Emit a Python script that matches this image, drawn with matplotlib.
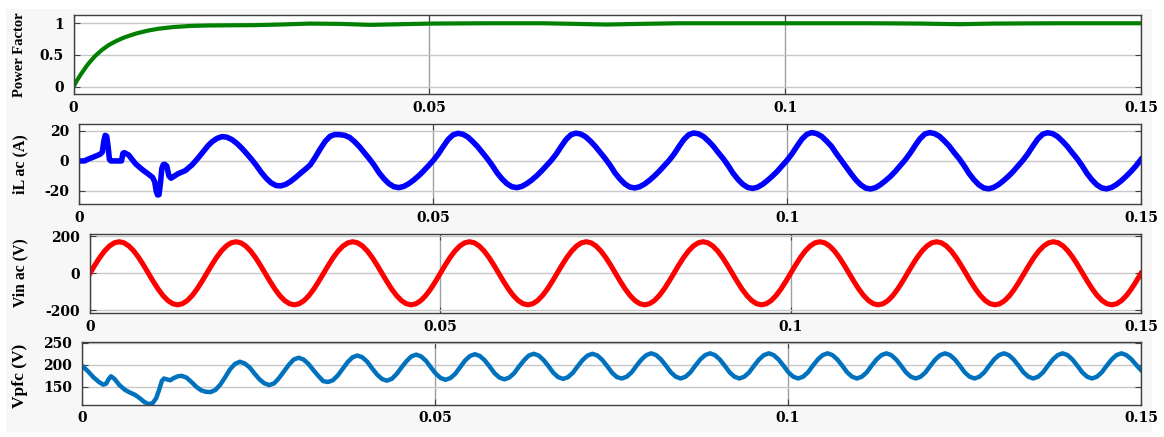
import matplotlib.pyplot as plt
import numpy as np
from matplotlib.patches import Rectangle

W, H = 1164, 437

# ---- power factor (explicit samples)
t_pf = [0, 0.0005, 0.001, 0.0015, 0.002, 0.003, 0.004, 0.005, 0.006, 0.007,
        0.008, 0.009, 0.0105, 0.012, 0.014, 0.0165, 0.019, 0.022, 0.0253, 0.029,
        0.0332, 0.0375, 0.0417, 0.046, 0.0501, 0.058, 0.066, 0.0705, 0.0749, 0.0795,
        0.085, 0.095, 0.105, 0.112, 0.119, 0.1245, 0.1293, 0.138, 0.15]
pf = [0, 0.1, 0.19, 0.27, 0.35, 0.48, 0.58, 0.66, 0.72, 0.77,
      0.81, 0.845, 0.885, 0.915, 0.94, 0.958, 0.965, 0.968, 0.97, 0.98,
      0.995, 0.99, 0.975, 0.985, 0.995, 1.0, 1.0, 0.99, 0.98, 0.99,
      1.0, 1.0, 1.0, 1.0, 0.995, 0.985, 0.995, 1.0, 1.0]

# ---- inductor current: start-up transient, then steady part on a fixed sample grid
t_il_start = [0, 0.0008, 0.0012, 0.0020, 0.0030, 0.0033, 0.0035, 0.0037, 0.0039, 0.0041,
              0.0043, 0.0045, 0.0060, 0.0062, 0.0064, 0.0070, 0.0080, 0.0090, 0.0100, 0.0104,
              0.0107, 0.0109, 0.0111, 0.0113, 0.0115, 0.0117, 0.0119, 0.0121, 0.0124, 0.0127,
              0.0130, 0.0135, 0.0140, 0.0150, 0.0160, 0.0168, 0.0176, 0.0182]
il_start = [0, 0, 1.0, 2.5, 4.5, 6, 13, 17, 16.5, 10,
            1, 0, 0, 5, 5.5, 4, -2, -6, -9.5, -11,
            -14, -20, -22.7, -22.5, -15, -5, -2.5, -2.2, -3.5, -10,
            -11.5, -10, -8.5, -6.5, -2.5, 1.8, 6.5, 10]
il_steady = [
    12.8, 15.0,
    16.2, 15.8, 14.3, 11.8, 8.6, 5.0, 1.2, -3.0, -7.6, -11.5, -14.6, -16.4,
    -16.6, -15.6, -13.6, -11.0, -8.2, -5.5, -2.5, 2.5, 8.0, 13.0, 16.4, 17.6,
    17.5, 17.0, 15.6, 12.8, 9.4, 5.4, 1.4, -3.0, -8.0, -12.0, -15.2, -17.2,
    -17.8, -17.0, -15.2, -12.8, -10.0, -6.8, -3.2, 0.3, 4.5, 9.5, 14.2, 17.3,
    18.4, 17.8, 16.0, 13.0, 9.6, 5.5, 1.5, -3.0, -8.0, -12.0, -15.2, -17.2,
    -17.8, -17.0, -15.2, -12.8, -10.0, -6.8, -3.2, 0.3, 4.5, 9.5, 14.2, 17.4,
    18.5, 17.9, 16.1, 13.1, 9.6, 5.5, 1.5, -3.0, -8.1, -12.1, -15.4, -17.4,
    -18.0, -17.2, -15.4, -12.9, -10.0, -6.8, -3.2, 0.4, 4.6, 9.6, 14.3, 17.5,
    18.6, 18.0, 16.2, 13.2, 9.7, 5.5, 1.5, -3.1, -8.2, -12.3, -15.6, -17.7,
    -18.3, -17.5, -15.6, -13.0, -10.1, -6.9, -3.2, 0.5, 4.8, 9.8, 14.5, 17.7,
    18.9, 18.2, 16.4, 13.3, 9.8, 5.0, 0.5, -4.0, -8.5, -12.7, -16.0, -18.1,
    -18.7, -17.8, -15.8, -13.2, -10.4, -7.0, -3.2, 0.6, 5.0, 10.0, 14.7, 17.9,
    18.9, 18.2, 16.4, 13.3, 9.8, 5.5, 1.5, -3.1, -8.3, -12.5, -15.9, -18.0,
    -18.6, -17.7, -15.8, -13.2, -10.3, -7.0, -3.3, 0.5, 4.9, 9.9, 14.6, 17.8,
    18.8, 18.2, 16.3, 13.2, 9.7, 5.5, 1.5, -3.1, -8.3, -12.5, -15.9, -18.0,
    -18.6, -17.7, -15.8, -13.2, -10.2, -6.9, -3.2, 1.0,
]

# ---- input voltage on a 1/1440 s sample grid
vin = [
    0, 44, 85, 120, 147, 164, 170, 164, 147, 120, 85, 44, 0, -44, -85, -120, -147, -164, -170, -164, -147, -120, -85, -44,
    0, 44, 85, 120, 147, 164, 170, 164, 147, 120, 85, 44, 0, -44, -85, -120, -147, -164, -170, -164, -147, -120, -85, -44,
    0, 44, 85, 120, 147, 164, 170, 164, 147, 120, 85, 44, 0, -44, -85, -120, -147, -164, -170, -164, -147, -120, -85, -44,
    0, 44, 85, 120, 147, 164, 170, 164, 147, 120, 85, 44, 0, -44, -85, -120, -147, -164, -170, -164, -147, -120, -85, -44,
    0, 44, 85, 120, 147, 164, 170, 164, 147, 120, 85, 44, 0, -44, -85, -120, -147, -164, -170, -164, -147, -120, -85, -44,
    0, 44, 85, 120, 147, 164, 170, 164, 147, 120, 85, 44, 0, -44, -85, -120, -147, -164, -170, -164, -147, -120, -85, -44,
    0, 44, 85, 120, 147, 164, 170, 164, 147, 120, 85, 44, 0, -44, -85, -120, -147, -164, -170, -164, -147, -120, -85, -44,
    0, 44, 85, 120, 147, 164, 170, 164, 147, 120, 85, 44, 0, -44, -85, -120, -147, -164, -170, -164, -147, -120, -85, -44,
    0, 44, 85, 120, 147, 164, 170, 164, 147, 120, 85, 44, 0, -44, -85, -120, -147, -164, -170, -164, -147, -120, -85, -44,
    0,
]

# ---- PFC output voltage: start-up, then 120 Hz ripple on a fixed grid
t_vpfc_start = [0, 0.0008, 0.0016, 0.0024, 0.0030, 0.0034, 0.0038, 0.0041, 0.0046, 0.0053,
                0.0061, 0.0068, 0.0075, 0.0082, 0.0088, 0.0094, 0.0100, 0.0105, 0.0109, 0.0113,
                0.0116, 0.0120, 0.0125, 0.0130, 0.0136, 0.0141, 0.0148, 0.0155, 0.0162, 0.0169,
                0.0175]
vpfc_start = [198, 186, 172, 161, 155, 157, 168, 174, 168, 154,
              143, 137, 132, 124, 116, 111, 113, 124, 142, 163,
              169, 167, 165, 170, 174, 175, 171, 161, 150, 142,
              139]
vpfc_steady = [
    138, 143, 155, 172, 190, 202, 207, 203, 194, 180, 167, 158,
    154, 158, 170, 185, 200, 212, 216, 212, 202, 188, 175, 163,
    161, 165, 176, 191, 206, 217, 221, 217, 207, 192, 178, 168,
    164, 168, 179, 194, 208, 219, 223, 219, 209, 194, 180, 170,
    166, 170, 180, 195, 210, 220, 224, 220, 210, 196, 181, 171,
    167, 171, 181, 196, 210, 221, 225, 221, 211, 197, 182, 172,
    168, 172, 182, 197, 211, 221, 225, 221, 211, 197, 182, 172,
    169, 173, 183, 198, 212, 222, 226, 222, 212, 198, 183, 173,
    169, 173, 183, 198, 212, 222, 226, 222, 212, 198, 183, 173,
    169, 173, 183, 198, 212, 222, 226, 222, 212, 198, 183, 173,
    169, 173, 183, 198, 212, 222, 226, 222, 212, 198, 183, 173,
    169, 173, 183, 198, 212, 222, 226, 222, 212, 198, 183, 173,
    169, 173, 183, 198, 212, 222, 226, 222, 212, 198, 183, 173,
    169, 173, 183, 198, 212, 222, 226, 222, 212, 198, 183, 173,
    169, 173, 183, 198, 212, 222, 226, 222, 212, 198, 183, 173,
    169, 173, 183, 198, 212, 222, 226, 222, 213, 200, 188,
]

x_ticks = [0, 0.05, 0.1, 0.15]
x_ticklabels = ['0', '0.05', '0.1', '0.15']

t_il = np.concatenate([t_il_start, np.linspace(0.0188, 0.15, len(il_steady))])
il = np.concatenate([il_start, il_steady])
t_vin = np.linspace(0, 0.15, len(vin))
t_vpfc = np.concatenate([t_vpfc_start, np.linspace(0.0182, 0.15, len(vpfc_steady))])
vpfc = np.concatenate([vpfc_start, vpfc_steady])


def px_rect(left, right, top, bottom):
    return [left / W, 1 - bottom / H, (right - left) / W, (bottom - top) / H]


fig = plt.figure(figsize=(W / 100, H / 100), dpi=100)
fig.patch.set_facecolor('white')
fig.patches.append(Rectangle((6 / W, 5 / H), (1152 - 6) / W, (430 - 7) / H,
                             transform=fig.transFigure, facecolor='#f7f7f7',
                             edgecolor='none', zorder=-5))

panels = [
    dict(rect=px_rect(73.5, 1141, 14.7, 94.3), t=t_pf, y=pf, color='#008000', lw=3.0,
         ylim=(-0.12, 1.135), yticks=[0, 0.5, 1], ylabels=['0', '0.5', '1'],
         label='Power Factor', lsize=10.5, lcenter=54.5),
    dict(rect=px_rect(79, 1141, 124.3, 204), t=t_il, y=il, color='#0000ff', lw=4.0,
         ylim=(-28.7, 24.4), yticks=[-20, 0, 20], ylabels=['-20', '0', '20'],
         label='iL ac (A)', lsize=11.5, lcenter=164),
    dict(rect=px_rect(90, 1141, 234.3, 313), t=t_vin, y=vin, color='#ff0000', lw=3.7,
         ylim=(-214, 210), yticks=[-200, 0, 200], ylabels=['-200', '0', '200'],
         label='Vin ac (V)', lsize=11.3, lcenter=273),
    dict(rect=px_rect(82, 1141, 342.3, 404.5), t=t_vpfc, y=vpfc, color='#0072bd', lw=3.2,
         ylim=(110, 251), yticks=[150, 200, 250], ylabels=['150', '200', '250'],
         label='Vpfc (V)', lsize=12.5, lcenter=376),
]

tick_font = dict(family='DejaVu Serif', weight='bold', size=10)

for p in panels:
    ax = fig.add_axes(p['rect'])
    ax.set_facecolor('white')
    ax.plot(p['t'], p['y'], color=p['color'], lw=p['lw'], solid_joinstyle='round')
    ax.set_xlim(0, 0.15)
    ax.set_ylim(*p['ylim'])
    ax.set_xticks(x_ticks)
    ax.set_xticklabels(x_ticklabels, fontdict=tick_font)
    ax.set_yticks(p['yticks'])
    ax.set_yticklabels(p['ylabels'], fontdict=tick_font)
    ax.set_axisbelow(True)
    ax.yaxis.grid(True, color='#c8c8c8', lw=1.0)
    ax.xaxis.grid(True, color='#a0a0a0', lw=1.0)
    ax.tick_params(direction='in', length=4, width=0.8, color='#404040',
                   top=True, right=True)
    ax.tick_params(axis='y', pad=7)
    ax.tick_params(axis='x', pad=5)
    for s in ax.spines.values():
        s.set_color('#404040')
        s.set_linewidth(1.0)
    ax.set_ylabel(p['label'], family='Liberation Serif', weight='bold', fontsize=p['lsize'],
                  ha='center', va='center', rotation_mode='default')
    ax.yaxis.set_label_coords(20 / W, 1 - p['lcenter'] / H, transform=fig.transFigure)

fig.savefig('out.png', dpi=100, facecolor=fig.get_facecolor())
